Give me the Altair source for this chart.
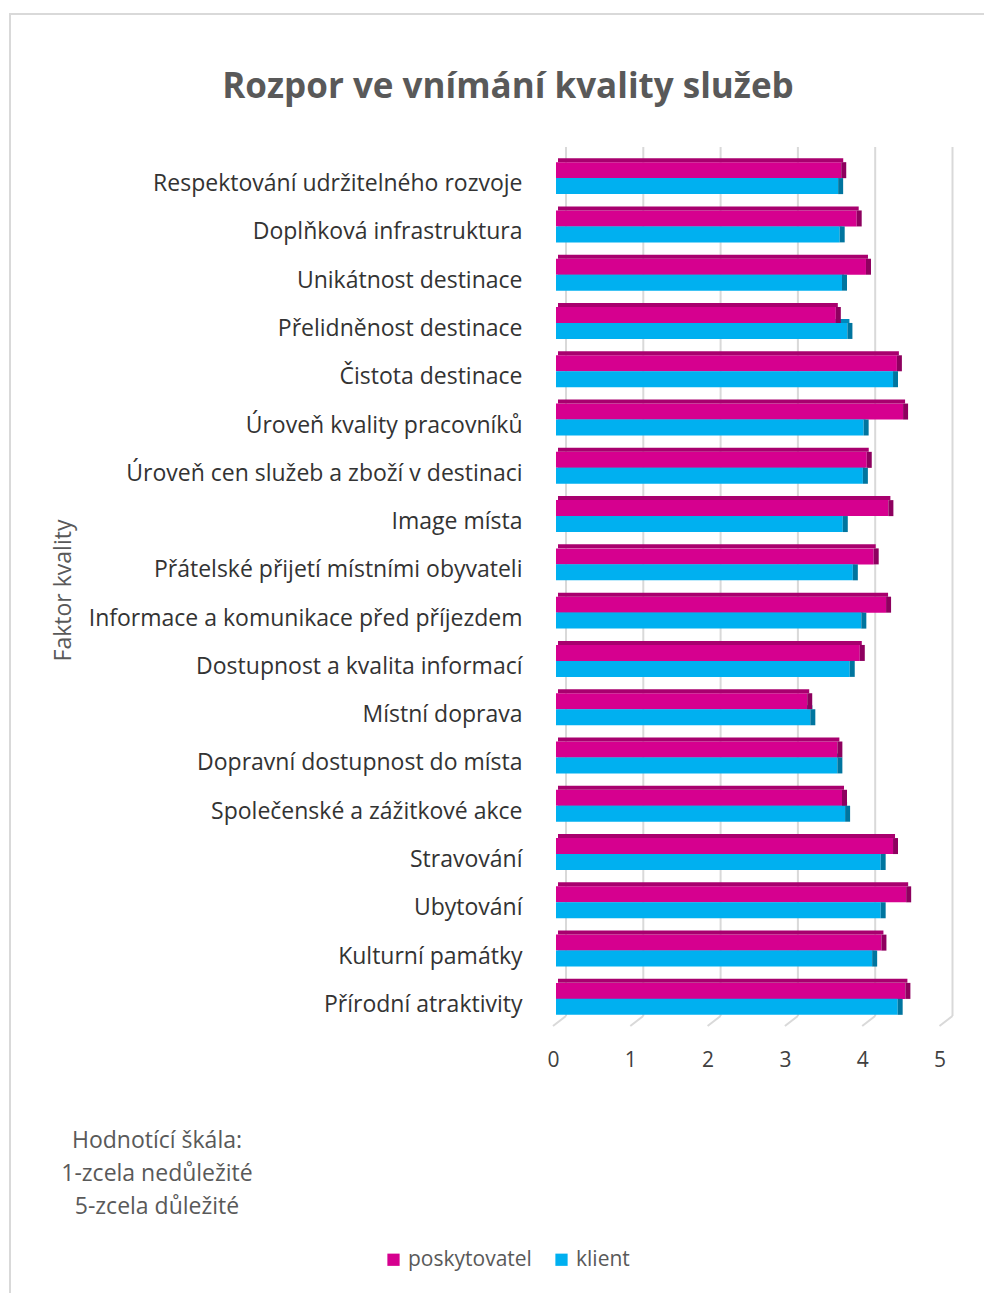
import altair as alt
import pandas as pd

factors = [
    "Respektování udržitelného rozvoje",
    "Doplňková infrastruktura",
    "Unikátnost destinace",
    "Přelidněnost destinace",
    "Čistota destinace",
    "Úroveň kvality pracovníků",
    "Úroveň cen služeb a zboží v destinaci",
    "Image místa",
    "Přátelské přijetí místními obyvateli",
    "Informace a komunikace před příjezdem",
    "Dostupnost a kvalita informací ",
    "Místní doprava",
    "Dopravní dostupnost do místa",
    "Společenské a zážitkové akce",
    "Stravování",
    "Ubytování",
    "Kulturní památky",
    "Přírodní atraktivity",
]
poskytovatel = [3.69, 3.89, 4.01, 3.62, 4.41, 4.49, 4.02, 4.30, 4.11, 4.27, 3.93, 3.25,
                3.64, 3.70, 4.36, 4.53, 4.21, 4.52]
klient = [3.65, 3.67, 3.70, 3.77, 4.36, 3.98, 3.97, 3.71, 3.84, 3.95, 3.80, 3.29,
          3.64, 3.74, 4.20, 4.20, 4.09, 4.42]
series = ["poskytovatel", "klient"]
colors = ["#D6008F", "#00B0F0"]
side_colors = ["#8E005F", "#00759F"]
top_colors = ["#A8006E", "#0089BB"]
x_ticks = [0, 1, 2, 3, 4, 5]

rows = []
for f, p, k in zip(factors, poskytovatel, klient):
    rows.append({"faktor": f, "serie": "poskytovatel", "hodnota": p})
    rows.append({"faktor": f, "serie": "klient", "hodnota": k})
df = pd.DataFrame(rows)
grid_df = pd.DataFrame({"v": x_ticks})
one = pd.DataFrame({"k": [0]})

FONT = "Open Sans"
W, H = 386.5, 869
PL, PT = 556, 154

xscale = alt.Scale(domain=[0, 5], nice=False)
yscale = alt.Scale(domain=factors, paddingInner=0.34, paddingOuter=0.17)
oscale = alt.Scale(domain=series, paddingInner=0, paddingOuter=0)

xaxis = alt.Axis(title=None, values=x_ticks, grid=False, domain=False, ticks=False,
                 labelPadding=26, labelOffset=-3, labelFont=FONT, labelFontSize=21,
                 labelColor="#404040", labelAlign="center", format="d")

grid = alt.Chart(grid_df).mark_rule(color="#D9D9D9", strokeWidth=2, xOffset=10).encode(
    x=alt.X("v:Q", scale=xscale, axis=xaxis),
    y=alt.value(-7),
    y2=alt.value(862),
)
floor = alt.Chart(grid_df).mark_rule(color="#D9D9D9", strokeWidth=2, xOffset=10, x2Offset=-3).encode(
    x=alt.X("v:Q", scale=xscale),
    x2=alt.X2("v"),
    y=alt.value(862),
    y2=alt.value(872),
)

# 3D top faces (no yOffset channel so that the pixel offset applies)
tops_k = alt.Chart(df).transform_filter(alt.datum.serie == "klient").mark_bar(
    size=4, yOffset=-2, xOffset=2, color=top_colors[1]
).encode(
    y=alt.Y("faktor:N", scale=yscale, sort=factors),
    x=alt.X("hodnota:Q", scale=xscale),
)
tops_p = alt.Chart(df).transform_filter(alt.datum.serie == "poskytovatel").mark_bar(
    size=4, yOffset=-18, xOffset=2, color=top_colors[0]
).encode(
    y=alt.Y("faktor:N", scale=yscale, sort=factors),
    x=alt.X("hodnota:Q", scale=xscale),
)

bars = alt.Chart(df).mark_bar(size=16).encode(
    y=alt.Y("faktor:N", scale=yscale, sort=factors,
            axis=alt.Axis(title="Faktor kvality", domain=False, ticks=False, labelPadding=34,
                          labelOffset=6,
                          labelFont=FONT, labelFontSize=23, labelColor="#333333", labelLimit=600,
                          titleFont=FONT, titleFontSize=23, titleColor="#595959",
                          titleFontWeight="normal", titleX=-481, titleY=436, titleAlign="center")),
    yOffset=alt.YOffset("serie:N", sort=series, scale=oscale),
    x=alt.X("hodnota:Q", scale=xscale),
    color=alt.Color("serie:N", sort=series, scale=alt.Scale(domain=series, range=colors),
                    legend=alt.Legend(title=None, orient="none", direction="horizontal",
                                      legendX=-173, legendY=1095, symbolType="square",
                                      symbolSize=150, symbolStrokeWidth=0, labelFont=FONT,
                                      labelFontSize=21, labelColor="#595959", columnPadding=19,
                                      labelOffset=4, symbolOpacity=1)),
)

sides = alt.Chart(df).mark_tick(thickness=5, size=16, xOffset=2.5, opacity=1).encode(
    y=alt.Y("faktor:N", scale=yscale, sort=factors),
    yOffset=alt.YOffset("serie:N", sort=series, scale=oscale),
    x=alt.X("hodnota:Q", scale=xscale),
    color=alt.Color("serie:N", sort=series, scale=alt.Scale(domain=series, range=side_colors), legend=None),
)

title = alt.Chart(one).mark_text(
    text="Rozpor ve vnímání kvality služeb", font=FONT, fontSize=35, fontWeight="bold",
    color="#595959", align="center", baseline="middle"
).encode(x=alt.value(508 - PL), y=alt.value(87 - PT))

note = alt.Chart(one).mark_text(
    text=["Hodnotící škála:", "1-zcela nedůležité", "5-zcela důležité"], font=FONT, fontSize=23,
    color="#595959", align="center", baseline="middle", lineHeight=33
).encode(x=alt.value(157 - PL), y=alt.value(1141 - PT))

frame = alt.Chart(one).mark_rect(fill=None, stroke="#D9D9D9", strokeWidth=2).encode(
    x=alt.value(10 - PL), x2=alt.value(1000 - PL), y=alt.value(14 - PT), y2=alt.value(1320 - PT)
)

chart = alt.layer(frame, grid, floor, tops_k, bars, tops_p, sides, title, note).resolve_scale(
    color="independent"
).properties(
    width=W, height=H,
    padding={"left": PL, "top": PT, "right": 984 - PL - W, "bottom": 1293 - PT - H},
    autosize=alt.AutoSizeParams(type="none"),
    background="white",
).configure_view(stroke=None)

chart.save("out.html", embed_options={"renderer": "svg", "actions": False})
